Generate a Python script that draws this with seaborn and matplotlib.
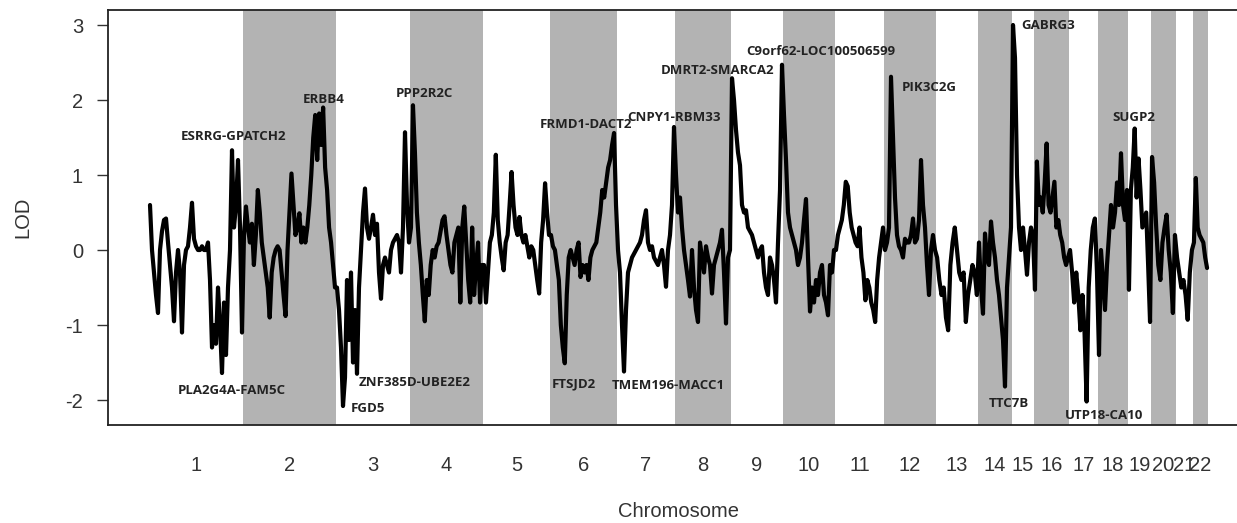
import numpy as np
import pandas as pd
import matplotlib
matplotlib.use("Agg")
import matplotlib.pyplot as plt
import seaborn as sns

# ---------------- data ----------------
chromosomes = [str(i) for i in range(1, 23)]
# relative map length of each chromosome (as drawn)
chrom_len = [94, 93, 74, 73, 67, 67, 58, 56, 52, 52, 49, 52, 42, 34, 22, 35, 29, 30, 23, 25, 17, 15]

lod_chr1 = [0.6, 0.0, -0.3, -0.6, -0.84, 0.0, 0.25, 0.4, 0.42, 0.1, -0.2, -0.5, -0.95, -0.3, 0.0, -0.3,
            -1.1, -0.2, 0.0, 0.05, 0.3, 0.63, 0.15, 0.05, 0.0, 0.0, 0.05, 0.0, 0.0, 0.1, -0.4, -1.3,
            -1.0, -1.25, -0.5, -1.0, -1.64, -0.7, -1.4, -0.5, 0.0, 1.33, 0.3, 0.6, 1.2, 0.3, -1.1]
lod_chr2 = [0.2, 0.58, 0.3, 0.1, 0.35, -0.2, 0.2, 0.8, 0.5, 0.1, -0.1, -0.3, -0.5, -0.9, -0.3, -0.1,
            0.0, 0.05, 0.0, -0.3, -0.6, -0.88, 0.0, 0.5, 1.02, 0.6, 0.2, 0.3, 0.49, 0.1, 0.3, 0.1,
            0.3, 0.6, 1.0, 1.5, 1.8, 1.2, 1.82, 1.4, 1.9, 1.1, 0.8, 0.3, 0.1, -0.2, -0.5]
lod_chr3 = [-0.5, -0.8, -1.3, -2.08, -1.7, -0.4, -1.2, -0.3, -1.5, -0.8, -1.65, -0.5, 0.0, 0.5, 0.82,
            0.3, 0.15, 0.3, 0.47, 0.2, 0.35, -0.3, -0.65, -0.2, -0.1, -0.2, -0.3, 0.0, 0.1, 0.15, 0.2,
            0.1, -0.3, 0.3, 1.57, 0.6, 0.1]
lod_chr4 = [0.3, 1.93, 1.3, 0.5, 0.1, -0.2, -0.6, -0.95, -0.4, -0.6, -0.2, 0.0, -0.1, 0.05, 0.1, 0.25,
            0.4, 0.45, 0.2, 0.0, -0.2, -0.3, 0.1, 0.2, 0.3, -0.7, 0.3, 0.58, 0.1, -0.4, -0.7, 0.3,
            -0.6, -0.2, 0.1, -0.7, -0.2]
lod_chr5 = [-0.2, -0.7, -0.3, 0.1, 0.2, 0.5, 1.27, 0.4, 0.1, -0.1, -0.27, 0.1, 0.2, 0.6, 1.04, 0.6,
            0.3, 0.2, 0.44, 0.2, 0.1, 0.2, 0.05, -0.1, 0.05, 0.0, -0.2, -0.4, -0.58, 0.1, 0.4, 0.89,
            0.5, 0.2]
lod_chr6 = [0.2, 0.05, 0.0, -0.2, -0.4, -1.0, -1.3, -1.51, -0.6, -0.1, 0.0, -0.1, -0.2, 0.0, 0.1, -0.36,
            -0.2, -0.3, -0.2, -0.4, -0.1, 0.0, 0.05, 0.1, 0.3, 0.5, 0.8, 0.7, 0.9, 1.1, 1.2, 1.4,
            1.56, 0.6]
lod_chr7 = [0.0, -0.3, -1.0, -1.62, -0.8, -0.3, -0.2, -0.1, -0.05, 0.0, 0.05, 0.1, 0.2, 0.4, 0.53, 0.1,
            0.0, 0.05, -0.1, -0.15, -0.2, -0.1, 0.0, -0.2, -0.49, 0.0, 0.2, 0.6, 1.64]
lod_chr8 = [1.0, 0.5, 0.7, 0.3, 0.0, -0.2, -0.4, -0.62, 0.0, -0.5, -0.8, -0.96, 0.1, -0.1, -0.3, 0.05,
            -0.1, -0.2, -0.58, -0.2, -0.1, 0.0, 0.1, 0.27, -0.3, -0.98, -0.1, 0.0]
lod_chr9 = [2.29, 2.0, 1.6, 1.3, 1.13, 0.6, 0.5, 0.53, 0.3, 0.25, 0.2, 0.1, 0.0, -0.1, 0.0, 0.05,
            -0.3, -0.5, -0.6, -0.1, -0.2, -0.4, -0.7, 0.1, 0.8, 2.47]
lod_chr10 = [1.8, 1.2, 0.5, 0.3, 0.2, 0.1, 0.0, -0.2, -0.1, 0.1, 0.4, 0.68, -0.1, -0.82, -0.5, -0.7,
             -0.4, -0.6, -0.3, -0.2, -0.6, -0.7, -0.87, -0.2, -0.3, 0.0]
lod_chr11 = [0.0, 0.2, 0.3, 0.4, 0.6, 0.91, 0.85, 0.5, 0.3, 0.2, 0.1, 0.05, 0.3, -0.1, -0.3, -0.67,
             -0.4, -0.5, -0.7, -0.8, -0.96, -0.4, -0.1, 0.1, 0.3]
lod_chr12 = [0.0, 0.1, 0.3, 2.31, 1.5, 0.7, 0.2, 0.05, 0.0, -0.1, 0.15, 0.1, 0.1, 0.2, 0.42, 0.1,
             0.15, 0.4, 1.2, 0.6, 0.3, -0.2, -0.6, 0.0, 0.2, 0.0]
lod_chr13 = [-0.1, -0.4, -0.6, -0.5, -0.9, -1.07, -0.2, 0.1, 0.3, 0.0, -0.3, -0.4, -0.3, -0.96, -0.6,
             -0.4, -0.2, -0.3, -0.6]
lod_chr14 = [0.1, -0.5, -0.85, 0.22, -0.1, -0.2, 0.38, 0.1, -0.1, -0.4, -0.6, -0.9, -1.2, -1.82, -0.5,
             -0.1, 0.3]
lod_chr15 = [3.0, 2.56, 1.0, 0.3, 0.0, 0.3, 0.0, -0.33, 0.1, 0.3, 0.2]
lod_chr16 = [-0.53, 1.18, 0.6, 0.7, 0.5, 0.9, 1.42, 0.6, 0.5, 0.7, 0.91, 0.3, 0.4, 0.2, 0.1, -0.1,
             -0.2, -0.1]
lod_chr17 = [0.0, -0.3, -0.7, -0.3, -0.6, -1.07, -0.6, -1.1, -2.02, -0.5, 0.0, 0.3, 0.42, -0.3]
lod_chr18 = [-1.4, 0.0, -0.4, -0.8, -0.2, 0.2, 0.6, 0.3, 0.5, 0.9, 0.6, 1.29, 0.6, 0.4, 0.8]
lod_chr19 = [-0.53, 0.8, 1.1, 1.62, 0.7, 1.22, 0.8, 0.3, 0.4, 0.5, -0.2, -0.96]
lod_chr20 = [1.24, 0.9, 0.3, -0.2, -0.4, 0.1, 0.3, 0.47, 0.0, -0.3, -0.84, 0.2]
lod_chr21 = [-0.1, -0.3, -0.5, -0.4, -0.6, -0.93, -0.3, 0.0]
lod_chr22 = [0.1, 0.96, 0.3, 0.2, 0.15, 0.1, -0.1, -0.24]

lod_values = [lod_chr1, lod_chr2, lod_chr3, lod_chr4, lod_chr5, lod_chr6, lod_chr7, lod_chr8,
              lod_chr9, lod_chr10, lod_chr11, lod_chr12, lod_chr13, lod_chr14, lod_chr15, lod_chr16,
              lod_chr17, lod_chr18, lod_chr19, lod_chr20, lod_chr21, lod_chr22]

# gene annotations: (label, x position on map, LOD height of label)
gene_labels = ["ESRRG-GPATCH2", "ERBB4", "PPP2R2C", "PLA2G4A-FAM5C", "FGD5", "ZNF385D-UBE2E2",
               "FRMD1-DACT2", "CNPY1-RBM33", "DMRT2-SMARCA2", "C9orf62-LOC100506599", "FTSJD2",
               "TMEM196-MACC1", "PIK3C2G", "GABRG3", "SUGP2", "TTC7B", "UTP18-CA10"]
gene_label_x = [85, 175, 275, 83, 219, 266, 437, 525, 568, 672, 425, 519, 780, 899, 985, 860, 955]
gene_label_y = [1.51, 2.01, 2.09, -1.87, -2.11, -1.77, 1.67, 1.77, 2.39, 2.65, -1.79, -1.81, 2.17,
                2.99, 1.77, -2.04, -2.2]

# ---------------- build table ----------------
starts = np.concatenate([[0], np.cumsum(chrom_len)[:-1]])
ends = np.cumsum(chrom_len)
rows = []
for c, (s, L, vals) in enumerate(zip(starts, chrom_len, lod_values)):
    n = len(vals)
    for i, v in enumerate(vals):
        rows.append({"chrom": chromosomes[c], "pos": s + (i + 0.5) * L / n, "lod": v})
df = pd.DataFrame(rows)

# ---------------- draw ----------------
sns.set_theme(style="white")
plt.rcParams["font.family"] = ["Liberation Sans", "DejaVu Sans"]

W, H = 1237, 523
fig = plt.figure(figsize=(W / 100, H / 100), dpi=100)
left_px, right_px, top_px, bot_px = 108, 1249, 10, 425
ax = fig.add_axes([left_px / W, (H - bot_px) / H, (right_px - left_px) / W, (bot_px - top_px) / H])

for c in range(len(chromosomes)):
    if (c + 1) % 2 == 0:
        ax.axvspan(starts[c], ends[c], color="#b3b3b3", lw=0, zorder=0)

sns.lineplot(data=df, x="pos", y="lod", estimator=None, sort=True,
             color="black", linewidth=3.0, ax=ax, zorder=3)

ax.set_xlim(-41, 1100)
ax.set_ylim(-2.333, 3.2)
ax.set_yticks([-2, -1, 0, 1, 2, 3])
ax.set_yticklabels(["-2", "-1", "0", "1", "2", "3"])
ax.set_xticks((starts + ends) / 2)
ax.set_xticklabels(chromosomes)
ax.tick_params(axis="y", direction="out", length=8, width=1.0, color="#333333",
               pad=10, labelsize=14.5, labelcolor="#333333", left=True)
ax.tick_params(axis="x", length=0, pad=22, labelsize=14.5, labelcolor="#333333")
ax.set_xlabel("Chromosome", fontsize=14.5, color="#333333", labelpad=20)
ax.set_ylabel("LOD", fontsize=14.5, color="#333333", labelpad=24)

for sp in ["top", "bottom", "left", "right"]:
    ax.spines[sp].set_color("#222222")
    ax.spines[sp].set_linewidth(1.3)

for lab, x, y in zip(gene_labels, gene_label_x, gene_label_y):
    ax.text(x, y, lab, ha="center", va="center", fontsize=9.5, fontweight="bold",
            family=["Open Sans", "DejaVu Sans"], color="#222222", zorder=4)

fig.savefig("out.png", dpi=100)
